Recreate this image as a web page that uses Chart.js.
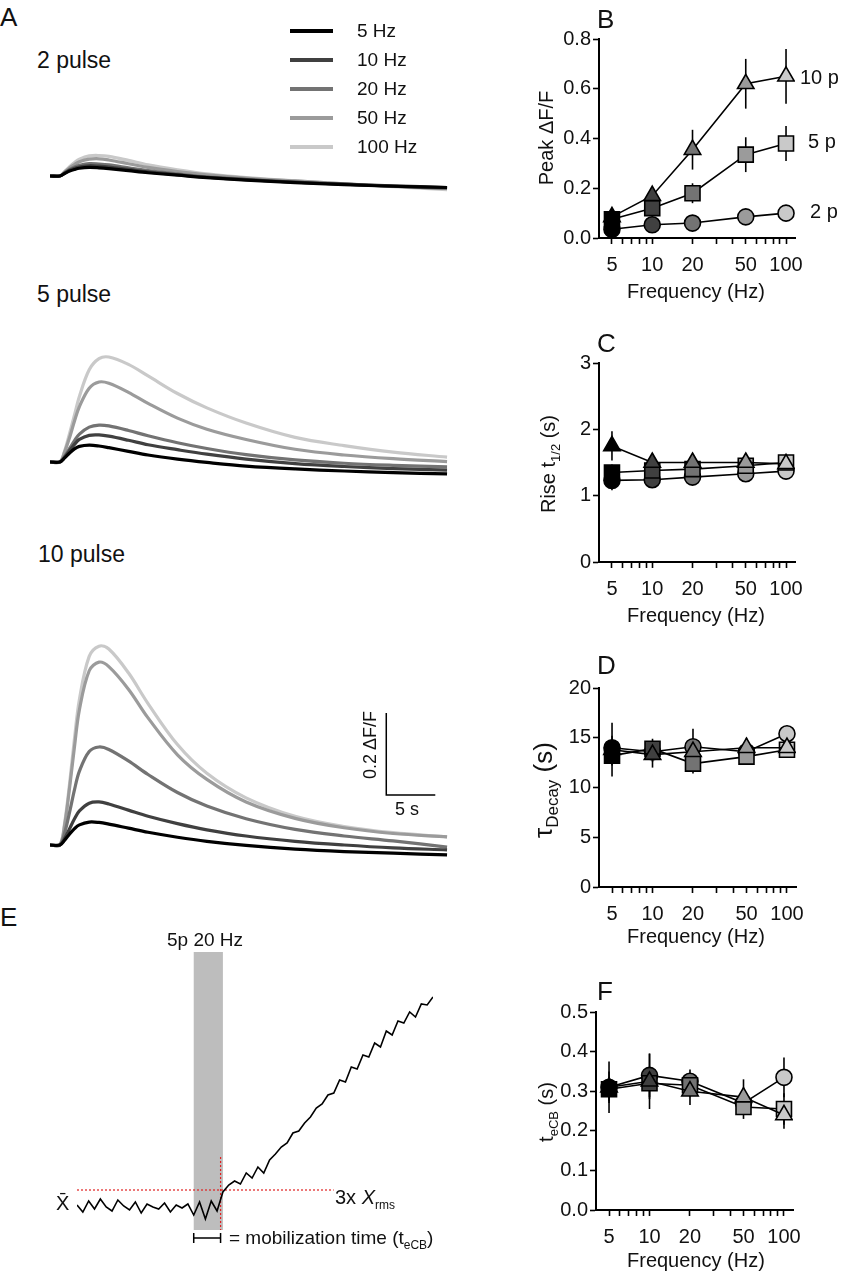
<!DOCTYPE html>
<html><head><meta charset="utf-8">
<script src="https://cdn.jsdelivr.net/npm/chart.js@4.4.1/dist/chart.umd.min.js"></script>
<style>
body{margin:0;width:842px;height:1280px;background:#fff;position:relative;font-family:"Liberation Sans",Arial,sans-serif;color:#111;overflow:hidden}
canvas{position:absolute}
.t{position:absolute;white-space:nowrap;line-height:1}
.rot{transform:rotate(-90deg);transform-origin:center center}
.lg{position:absolute;height:4px;width:43px}
sub{font-size:65%}
</style></head><body>
<script>
// ---------- DATA ----------
const freqLabels = ['5 Hz','10 Hz','20 Hz','50 Hz','100 Hz'];
const freqs = [5,10,20,50,100];
const traceTime = [0,1,1.5,2,2.5,3,4,5,6,8,10,13,16,20,25,30,35,40.5];
// 2 pulse traces (ΔF/F)
const p2_5   = [0,0,0.006,0.012,0.016,0.019,0.021,0.02,0.018,0.013,0.008,0.002,-0.004,-0.01,-0.016,-0.021,-0.025,-0.028];
const p2_10  = [0,0,0.007,0.014,0.019,0.022,0.025,0.024,0.022,0.016,0.01,0.003,-0.003,-0.009,-0.015,-0.02,-0.024,-0.028];
const p2_20  = [0,0,0.008,0.016,0.022,0.026,0.03,0.029,0.027,0.02,0.013,0.005,-0.002,-0.008,-0.015,-0.02,-0.025,-0.03];
const p2_50  = [0,0,0.01,0.02,0.028,0.035,0.041,0.042,0.039,0.03,0.021,0.011,0.003,-0.005,-0.012,-0.019,-0.025,-0.03];
const p2_100 = [0,0,0.011,0.023,0.033,0.041,0.049,0.05,0.048,0.038,0.027,0.015,0.005,-0.004,-0.012,-0.019,-0.026,-0.033];
// 5 pulse traces
const p5_5   = [0,0,0.01,0.022,0.032,0.038,0.041,0.039,0.035,0.026,0.017,0.007,-0.001,-0.01,-0.017,-0.022,-0.026,-0.029];
const p5_10  = [0,0,0.012,0.028,0.043,0.055,0.065,0.066,0.063,0.053,0.042,0.03,0.019,0.007,-0.004,-0.011,-0.016,-0.02];
const p5_20  = [0,0,0.014,0.033,0.052,0.068,0.085,0.09,0.088,0.077,0.064,0.047,0.033,0.018,0.005,-0.003,-0.008,-0.012];
const p5_50  = [0,0,0.025,0.06,0.1,0.135,0.18,0.195,0.192,0.17,0.143,0.107,0.08,0.055,0.031,0.017,0.008,0.001];
const p5_100 = [0,0,0.028,0.07,0.115,0.16,0.225,0.252,0.256,0.238,0.21,0.167,0.132,0.095,0.06,0.04,0.024,0.012];
// 10 pulse traces
const p10_5   = [0,0,0.012,0.027,0.04,0.049,0.056,0.055,0.051,0.041,0.031,0.019,0.009,-0.001,-0.01,-0.016,-0.02,-0.024];
const p10_10  = [0,0,0.016,0.04,0.064,0.083,0.102,0.105,0.1,0.085,0.07,0.052,0.037,0.022,0.009,0.0,-0.007,-0.012];
const p10_20  = [0,0,0.03,0.08,0.135,0.18,0.228,0.239,0.233,0.205,0.172,0.128,0.095,0.064,0.038,0.022,0.01,-0.005];
const p10_50  = [0,0,0.05,0.14,0.24,0.33,0.425,0.446,0.435,0.38,0.31,0.22,0.16,0.105,0.065,0.042,0.028,0.02];
const p10_100 = [0,0,0.055,0.15,0.26,0.355,0.46,0.485,0.478,0.42,0.345,0.245,0.175,0.115,0.07,0.045,0.03,0.02];
// scale bar (5 s, 0.2 ΔF/F)
const scaleBarX = [34.3,34.3,39.3];
const scaleBarY = [0.322,0.122,0.122];
// B: peak ΔF/F
const peak2p = [0.035,0.053,0.06,0.085,0.10],  peak2pErr = [0.01,0.01,0.01,0.01,0.01];
const peak5p = [0.075,0.12,0.18,0.335,0.38],   peak5pErr = [0.02,0.03,0.04,0.07,0.07];
const peak10p= [0.085,0.17,0.355,0.62,0.65],   peak10pErr= [0.02,0.03,0.08,0.1,0.11];
// C: rise t1/2 (s)
const rise2p = [1.23,1.24,1.28,1.33,1.37], rise2pErr=[0.15,0.12,0.12,0.08,0.12];
const rise5p = [1.35,1.38,1.40,1.45,1.50], rise5pErr=[0.12,0.1,0.1,0.1,0.1];
const rise10p= [1.75,1.50,1.50,1.50,1.48], rise10pErr=[0.22,0.1,0.1,0.08,0.08];
// D: tau decay (s)
const tau2p = [14.0,13.6,14.1,13.6,15.4], tau2pErr=[1.2,1.0,1.8,0.8,0.8];
const tau5p = [13.2,13.9,12.4,13.1,13.8], tau5pErr=[1.0,1.0,1.0,0.8,0.6];
const tau10p= [13.8,13.3,13.6,14.0,14.0], tau10pErr=[2.7,1.3,1.0,1.0,0.8];
// F: t_eCB (s)
const tecb2p = [0.31,0.34,0.325,0.27,0.335],  tecb2pErr=[0.04,0.055,0.03,0.03,0.05];
const tecb5p = [0.305,0.32,0.315,0.26,0.255], tecb5pErr=[0.03,0.04,0.03,0.03,0.04];
const tecb10p= [0.31,0.325,0.30,0.285,0.24],  tecb10pErr=[0.065,0.07,0.035,0.045,0.035];
// E: example trace
const eTime = [-1.0,-0.95,-0.9,-0.85,-0.8,-0.75,-0.7,-0.65,-0.6,-0.55,-0.5,-0.45,-0.4,-0.35,-0.3,-0.25,-0.2,-0.15,-0.1,-0.05,0,0.05,0.1,0.15,0.2,0.25,0.3,0.35,0.4,0.45,0.5,0.55,0.6,0.65,0.7,0.75,0.8,0.85,0.9,0.95,1.0,1.05,1.1,1.15,1.2,1.25,1.3,1.35,1.4,1.45,1.5,1.55,1.6,1.65,1.7,1.75,1.8,1.85,1.9,1.95,2.0,2.05];
const eValue = [0.02,-0.05,0.06,-0.02,0.08,0.0,-0.04,0.07,0.01,-0.03,0.05,-0.06,0.03,0.0,-0.02,0.04,-0.05,0.02,-0.01,0.03,-0.08,0.05,-0.12,0.06,-0.04,0.15,0.22,0.26,0.23,0.34,0.29,0.4,0.34,0.47,0.53,0.6,0.64,0.74,0.76,0.84,0.9,0.99,1.03,1.12,1.14,1.27,1.25,1.4,1.38,1.52,1.5,1.64,1.6,1.76,1.72,1.86,1.84,1.95,1.9,2.03,2.02,2.1];
const stimWindow = [0,0.25];
const tEcb = 0.23;
const threshold = 0.17;

// ---------- helpers ----------
const greys = ['#000000','#404040','#737373','#9b9b9b','#c9c9c9'];
const FONT = '"Liberation Sans", Arial, sans-serif';
Chart.defaults.font.family = FONT;
Chart.defaults.animation = false;

function mkCanvas(l,t,w,h){const c=document.createElement('canvas');c.style.left=l+'px';c.style.top=t+'px';c.style.width=w+'px';c.style.height=h+'px';c.width=w;c.height=h;document.body.appendChild(c);return c;}
function txt(html,l,t,size,cls){const d=document.createElement('div');d.className='t '+(cls||'');d.innerHTML=html;d.style.left=l+'px';d.style.top=t+'px';d.style.fontSize=size+'px';document.body.appendChild(d);return d;}

function tracePanel(top,bottom,baseline,series,extra){
  const c=mkCanvas(50,top,400,bottom-top);
  const ppu=410;
  const ds=series.map((s,i)=>({data:traceTime.map((t,j)=>({x:t,y:s[j]})),borderColor:greys[i],borderWidth:3.2,pointRadius:0,tension:0.35}));
  if(extra) ds.unshift(extra);
  new Chart(c,{type:'line',data:{datasets:ds},options:{responsive:false,maintainAspectRatio:false,layout:{padding:0},
    plugins:{legend:{display:false},tooltip:{enabled:false}},
    scales:{x:{type:'linear',display:false,min:0,max:40.8},y:{display:false,min:-(bottom-baseline)/ppu,max:(baseline-top)/ppu}}}});
}
tracePanel(140,200,176,[p2_5,p2_10,p2_20,p2_50,p2_100]);
tracePanel(340,485,462,[p5_5,p5_10,p5_20,p5_50,p5_100]);
tracePanel(630,870,845,[p10_5,p10_10,p10_20,p10_50,p10_100],
  {data:scaleBarX.map((x,i)=>({x,y:scaleBarY[i]})),borderColor:'#000',borderWidth:1.5,pointRadius:0,tension:0});

// Legend A
freqLabels.forEach((l,i)=>{const d=document.createElement('div');d.className='lg';d.style.left='290px';d.style.top=(29+i*29)+'px';d.style.background=greys[i];document.body.appendChild(d);txt(l,357,21+i*29,19);});
txt('A',0,4,26); txt('2 pulse',37,49,23); txt('5 pulse',37,283,23); txt('10 pulse',38,543,23);
{const d=txt('0.2 ΔF/F',0,0,18,'rot');d.style.left='320px';d.style.width='100px';d.style.textAlign='center';d.style.top='736px';}
txt('5 s',395,800,18);

// ---------- scatter panels ----------
const errPlugin={id:'err',beforeDatasetsDraw(ch){const ctx=ch.ctx;ctx.save();ctx.strokeStyle='#000';ctx.lineWidth=1.6;
  ch.data.datasets.forEach(ds=>{if(!ds.err)return;ds.data.forEach((p,i)=>{const x=ch.scales.x.getPixelForValue(p.x);
   const y1=ch.scales.y.getPixelForValue(p.y-ds.err[i]),y2=ch.scales.y.getPixelForValue(p.y+ds.err[i]);
   ctx.beginPath();ctx.moveTo(x,y1);ctx.lineTo(x,y2);ctx.stroke();});});ctx.restore();}};
const majors=[5,10,20,50,100];
function scatterPanel(aL,aR,aT,aB,yMax,yStep,s2,e2,s5,e5,s10,e10,yTickFmt){
  const W=80,PT=15,PR=25,XH=45;
  const c=mkCanvas(aL-W,aT-PT,W+(aR-aL)+PR,PT+(aB-aT)+XH);
  const mk=(vals,err,style,r)=>({data:freqs.map((f,i)=>({x:f,y:vals[i]})),err,pointStyle:style,pointRadius:r,
     pointBackgroundColor:greys,pointBorderColor:'#000',pointBorderWidth:1.6,borderColor:'#000',borderWidth:1.6,showLine:true,tension:0});
  new Chart(c,{type:'line',data:{datasets:[mk(s10,e10,'triangle',9.5),mk(s5,e5,'rect',10.6),mk(s2,e2,'circle',8)]},
    plugins:[errPlugin],
    options:{responsive:false,maintainAspectRatio:false,layout:{padding:{top:PT,right:PR,left:0,bottom:0}},
     plugins:{legend:{display:false},tooltip:{enabled:false}},
     scales:{
      x:{type:'logarithmic',min:4.0,max:116.7,
        afterBuildTicks(s){s.ticks=[5,6,7,8,9,10,20,30,40,50,60,70,80,90,100].map(v=>({value:v,major:majors.includes(v)}));},
        afterFit(s){s.height=XH;},
        ticks:{autoSkip:false,maxRotation:0,color:'#111',font:{size:20},padding:9,callback:(v)=>majors.includes(v)?String(v):''},
        grid:{drawOnChartArea:false,color:'#000',tickLength:6,tickWidth:1.6},border:{color:'#000',width:2}},
      y:{min:0,max:yMax,
        afterBuildTicks(s){const t=[];for(let v=0;v<=yMax+1e-9;v+=yStep)t.push({value:+v.toFixed(4)});s.ticks=t;},
        afterFit(s){s.width=W;},
        ticks:{color:'#111',font:{size:20},padding:2,callback:yTickFmt},
        grid:{drawOnChartArea:false,color:'#000',tickLength:6,tickWidth:1.6},border:{color:'#000',width:2}}}}});
}
const f1=v=>v.toFixed(1), f0=v=>String(Math.round(v));
scatterPanel(599,795,39,238,0.8,0.2,peak2p,peak2pErr,peak5p,peak5pErr,peak10p,peak10pErr,f1);
scatterPanel(599,795,363,562,3,1,rise2p,rise2pErr,rise5p,rise5pErr,rise10p,rise10pErr,f0);
scatterPanel(599,796,688,887,20,5,tau2p,tau2pErr,tau5p,tau5pErr,tau10p,tau10pErr,f0);
scatterPanel(596,793,1012,1210,0.5,0.1,tecb2p,tecb2pErr,tecb5p,tecb5pErr,tecb10p,tecb10pErr,f1);

txt('B',597,6,26); txt('C',597,330,26); txt('D',597,652,26); txt('F',597,978,26);
[[293],[617],[938],[1262]].forEach((a)=>{txt('Frequency (Hz)',627,a[0]-12,20);});
function ytitle(html,cx,cy){const d=txt(html,0,0,20,'rot');d.style.left=(cx-80)+'px';d.style.width='160px';d.style.textAlign='center';d.style.top=(cy-10)+'px';}
ytitle('Peak ΔF/F',546,138);
ytitle('Rise t<sub>1/2</sub> (s)',550,462);
{const d=txt('τ<sub>Decay</sub> (s)',0,0,26,'rot');d.style.left=(546-80)+'px';d.style.width='160px';d.style.textAlign='center';d.style.top=(787-13)+'px';}
ytitle('t<sub>eCB</sub> (s)',548,1110);
txt('10 p',800,67,20); txt('5 p',808,131,20); txt('2 p',810,201,20);

// ---------- E ----------
const ePlug={id:'e',beforeDatasetsDraw(ch){const ctx=ch.ctx,x=ch.scales.x,y=ch.scales.y;ctx.save();
  const x0=x.getPixelForValue(stimWindow[0]),x1=x.getPixelForValue(stimWindow[1]);
  ctx.fillStyle='#bdbdbd';ctx.fillRect(x0,12,x1-x0,278);
  ctx.strokeStyle='#e02020';ctx.lineWidth=1.2;ctx.setLineDash([2,2]);
  const xt=x.getPixelForValue(tEcb),yt=y.getPixelForValue(threshold);
  ctx.beginPath();ctx.moveTo(xt,217);ctx.lineTo(xt,290);ctx.stroke();
  ctx.beginPath();ctx.moveTo(0,yt);ctx.lineTo(x.getPixelForValue(1.2),yt);ctx.stroke();
  ctx.setLineDash([]);ctx.strokeStyle='#000';ctx.lineWidth=1.5;
  ctx.beginPath();ctx.moveTo(x0,298);ctx.lineTo(xt,298);ctx.moveTo(x0,293);ctx.lineTo(x0,303);ctx.moveTo(xt,293);ctx.lineTo(xt,303);ctx.stroke();
  ctx.restore();}};
{const c=mkCanvas(77,940,356,310);
 new Chart(c,{type:'line',data:{datasets:[{data:eTime.map((t,i)=>({x:t,y:eValue[i]})),borderColor:'#000',borderWidth:1.6,pointRadius:0,tension:0}]},
  plugins:[ePlug],options:{responsive:false,maintainAspectRatio:false,layout:{padding:0},plugins:{legend:{display:false},tooltip:{enabled:false}},
  scales:{x:{type:'linear',display:false,min:-1.0,max:2.05},y:{display:false,min:-(1250-1207)/100,max:(1207-940)/100}}}});}
txt('E',0,904,26);
txt('5p 20 Hz',167,930,19);
txt('3x <i>X</i><sub style="font-size:12px">rms</sub>',335,1187,20);
txt('X̄',56,1193,20);
txt('= mobilization time (t<sub style="font-size:12px">eCB</sub>)',229,1228,19);
</script>
</body></html>
